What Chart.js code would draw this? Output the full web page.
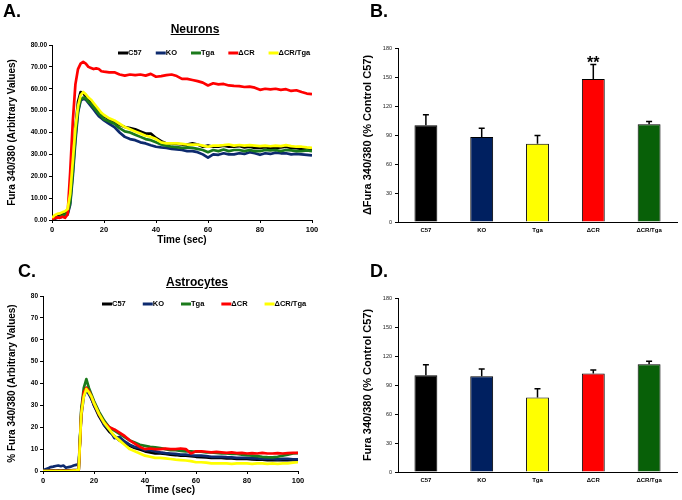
<!DOCTYPE html><html lang="en"><head><meta charset="utf-8">
<title>Fura 340/380 responses in neurons and astrocytes</title>
<script src="https://cdn.jsdelivr.net/npm/chart.js@4/dist/chart.umd.min.js"></script>
<style>
body { margin: 0; background: #fff; font-family: Arial, "Liberation Sans", sans-serif; }
#fig { position: relative; width: 682px; height: 500px; overflow: hidden; }
#fig canvas { position: absolute; }
.tag { position: absolute; font-size: 18px; font-weight: bold; line-height: 18px; }
.ttl { position: absolute; font-size: 12px; font-weight: bold; text-decoration: underline; line-height: 14px; transform: translateX(-50%); white-space: nowrap; }
</style>
</head><body>

<div id=fig>
<canvas id=cA width=340 height=250 style="left:0;top:0"></canvas>
<canvas id=cB width=342 height=250 style="left:340px;top:0"></canvas>
<canvas id=cC width=340 height=250 style="left:0;top:250px"></canvas>
<canvas id=cD width=342 height=250 style="left:340px;top:250px"></canvas>
<div class=tag style="left:3px;top:2px">A.</div>
<div class=tag style="left:370px;top:2px">B.</div>
<div class=tag style="left:18px;top:262px">C.</div>
<div class=tag style="left:370px;top:262px">D.</div>
<div class=ttl style="left:195px;top:22px">Neurons</div>
<div class=ttl style="left:197px;top:275px">Astrocytes</div>
</div>

<script>
const FONT = 'Arial, "Liberation Sans", sans-serif';
Chart.defaults.font.family = FONT;
Chart.defaults.color = '#000';
Chart.defaults.animation = false;

const groups = ["C57", "KO", "Tga", "ΔCR", "ΔCR/Tga"];
const lineColors = ["#000000", "#0d2a6e", "#1b7a1b", "#ff0000", "#ffff00"];
const barColors = ["#000000", "#002060", "#ffff00", "#ff0000", "#086008"];

// time points (sec)
const timeSec = [0,1,2,3,4,5,6,7,8,9,10,11,12,13,14,15,16,17,18,19,20,
  22,24,26,28,30,32,34,36,38,40,42,44,46,48,50,52,54,56,58,60,
  62,64,66,68,70,72,74,76,78,80,82,84,86,88,90,92,94,96,98,100];

// A. neurons, Fura 340/380 (arbitrary values)
const neuronC57 = [0.5,1,1.5,2,2.5,3,3.5,10,25,42,54,58.5,58,56.5,55,54,52.5,51,49.5,48.5,47.5,
  46,45,43.5,42.5,42,41.5,40.5,39.5,39.5,37.5,36,35,35,34.8,34.5,34.5,35,34.5,33.5,34,
  33.5,33.5,34,33.5,33.5,33.8,33.2,33.5,33,33,33.3,32.8,33,33.2,33.5,33,32.8,32.5,32.5,32.5];
const neuronKO = [0.2,0.5,1,1.2,1.5,2,2.5,7,20,36,49,54.5,55.5,55,53.5,52,50.5,49,47.5,46.5,45.5,
  44,42.5,40,38,37,36.5,35.5,35,34.2,33.5,33.2,33,32.5,32.3,32,31.5,31.5,31,30,28.5,
  30,29.8,30.5,30,30,30.5,30.2,31,30.5,29.8,30.5,30.2,30.8,30.5,30.5,30,30.2,30,29.8,29.5];
const neuronTga = [0.3,0.8,1.2,1.5,2,2.5,3,8,22,38,50,55,56,55.5,54,53,51.5,50,48.5,47.5,46,
  45,44,42,40.5,40,39,38,37,36.5,35.5,34.5,34,33.5,33.3,33,33.2,33,32.5,32,31,
  32,31.5,32.2,31.5,32,32,31.5,32,31.5,31.5,32,31.8,32,31.5,32,31.8,31.5,31.5,31.8,31.5];
const neuronDCR = [0.5,0.8,1.2,1,1.5,1,2.5,22,45,62,69,71.5,72.3,71.5,70,69.5,69,69.3,69,68,67.8,
  67.5,67.5,66.5,66,66.5,66.2,66.5,66,66.8,65.5,65.8,66.2,66.5,65.8,64.5,64.5,64,63.5,62.8,61.5,
  62.5,62,62.2,61.5,61.3,61.2,60.8,61,60.5,59.5,60,59.7,60,59.5,59.8,59,59.3,58.5,57.8,57.5];
const neuronDCRTga = [1,2.2,2.8,3,3.5,4,5,12,27,42,52,57,58.5,57.5,56,55,53.5,52,50.5,49,48,
  46.5,45.5,44,42.5,41.5,40.5,39.5,38.5,38,37,35.5,35,35,35,34.8,34.5,34.5,34.5,34,33.5,
  34,34,34.2,34.5,34,34.3,34,34.2,34,33.8,34,33.7,34,33.8,34.2,33.8,33.5,33.5,33.2,33];

// C. astrocytes, % Fura 340/380
const astroC57 = [0.2,0.2,0.3,0.2,0.3,0.2,0.3,0.2,0.3,0.2,0.3,0.3,0.4,0.4,0.5,27,36,38,36,33,30,
  25,21,18,16,14,12.5,11.5,10.5,9.8,9,8.5,8,8,7.8,7.5,7.3,7,7,6.8,6.5,
  6.3,6.2,6,6,6,5.8,5.8,5.5,5.5,5.5,5.3,5.2,5.2,5,5,5,5,5,5,5];
const astroKO = [0.3,0.8,1.2,1.8,2,2.3,2.5,2.2,2.5,1.5,1.8,2,2.5,2.8,3,25,34,37,35,33,30,
  26,21,19,15,15.5,13.5,12,11,10.5,9.5,9.5,9,8.5,8.2,8,7.8,7.5,7.5,7.2,7,
  7,6.8,6.5,6.5,6.5,6.3,6.2,6,6,6,5.8,5.8,5.5,5.5,5.5,5.3,5.5,5.5,5.3,5.3];
const astroTga = [0,0,0.1,0,0.1,0,0.1,0,0.1,0.1,0.2,0.2,0.2,0.3,0.3,28,38,42,38,35,32,
  27,23,20,18.5,17,15.5,14,13,12,11.5,11,10.8,10.5,10,9.5,9.5,9.2,9,9,8.8,
  8.8,8.5,8.5,8.3,8,8,7.8,7.8,7.5,7.2,7,6.8,6.5,6.3,6.2,6.5,7,7.5,8,8.2];
const astroDCR = [0,0,0,0.1,0,0.1,0,0.1,0,0.1,0.1,0.1,0.2,0.2,0.2,26,36,38,36.5,34,31,
  26,22,20,19,17.5,16,14,12.5,11,10,10.3,10,10,10.2,10,10,10.3,10,8,9,
  9,8.8,8.5,8.7,8.5,8.3,8.5,8.2,8.3,8,8.2,8,8.3,8,8,8.2,8,8.2,8.3,8.3];
const astroDCRTga = [0,0,0,0,0,0,0,0,0,0,0,0.1,0.2,0.3,0.5,26,34,37.5,36,34,31,
  26,22,19,16,14,12,10,9,8,7,6.5,6,6,5.8,5.5,5.2,5,4.8,4.5,4,
  4,3.8,3.5,3.5,3.5,3.5,3.3,3.5,3.5,3.5,3.3,3.5,3.5,3.3,3.5,3.3,3.5,3.5,3.8,4];

// B. / D. % control C57, mean and SEM
const neuronPct = [100, 88, 81, 148, 101];
const neuronSem = [11, 9, 8.5, 15, 3];
const neuronSig = ["", "", "", "**", ""];
const astroPct = [100, 99, 77, 102, 111.5];
const astroSem = [11, 7.5, 9, 3.5, 3];

// legend drawn as line + text inside the plot
const lineKey = {
  id: "lineKey",
  afterDraw(chart, args, o) {
    const ctx = chart.ctx;
    ctx.save();
    ctx.font = "bold 7.5px " + FONT;
    ctx.textBaseline = "middle";
    let x = o.x;
    chart.data.datasets.forEach(ds => {
      ctx.strokeStyle = ds.borderColor;
      ctx.lineWidth = 3;
      ctx.beginPath();
      ctx.moveTo(x, o.y);
      ctx.lineTo(x + 10, o.y);
      ctx.stroke();
      ctx.fillStyle = "#000";
      ctx.fillText(ds.label, x + 10, o.y);
      x += 10 + ctx.measureText(ds.label).width + o.gap;
    });
    ctx.restore();
  }
};

// upper error bars (+ significance marks)
const errorBars = {
  id: "errorBars",
  afterDatasetsDraw(chart, args, o) {
    const ctx = chart.ctx;
    const y = chart.scales.y;
    const vals = chart.data.datasets[0].data;
    ctx.save();
    ctx.strokeStyle = "#000";
    ctx.lineWidth = 1.5;
    chart.getDatasetMeta(0).data.forEach((bar, i) => {
      const top = y.getPixelForValue(vals[i] + o.sem[i]);
      ctx.beginPath();
      ctx.moveTo(bar.x, bar.y);
      ctx.lineTo(bar.x, top);
      ctx.moveTo(bar.x - 3, top);
      ctx.lineTo(bar.x + 3, top);
      ctx.stroke();
      if (o.sig && o.sig[i]) {
        ctx.fillStyle = "#000";
        ctx.font = "bold 16px " + FONT;
        ctx.textAlign = "center";
        ctx.fillText(o.sig[i], bar.x, top + 4);
      }
    });
    ctx.restore();
  }
};

const axisLine = { color: "#000", width: 1 };
const tickMarks = { drawOnChartArea: false, tickLength: 3, color: "#000" };

const lineChart = (id, series, o) => new Chart(document.getElementById(id), {
  type: "line",
  data: {
    datasets: series.map((s, i) => ({
      label: groups[i],
      data: timeSec.map((t, j) => ({ x: t, y: s[j] })),
      borderColor: lineColors[i],
      backgroundColor: lineColors[i],
      borderWidth: 2.7,
      borderJoinStyle: "round",
      pointRadius: 0,
      tension: 0,
      order: series.length - i, // later series drawn on top
    })),
  },
  options: {
    responsive: false,
    layout: { padding: { left: 0, top: o.top, right: o.right, bottom: 0 } },
    plugins: { legend: { display: false }, tooltip: { enabled: false }, lineKey: o.key },
    scales: {
      x: {
        type: "linear", min: 0, max: 100,
        ticks: { stepSize: 20, maxRotation: 0, padding: 2, font: { size: 7.5, weight: "bold" } },
        grid: tickMarks, border: axisLine,
        title: { display: true, text: "Time (sec)", font: { size: 10, weight: "bold" }, padding: { top: 0, bottom: 4 } },
        afterFit: s => { s.height = o.xh; },
      },
      y: {
        min: 0, max: 80,
        ticks: { stepSize: 10, padding: 2, callback: o.fmt, font: { size: 6.5, weight: "bold" } },
        grid: tickMarks, border: axisLine,
        title: { display: true, text: o.ytitle, font: { size: 10, weight: "bold" }, padding: { top: o.ytp, bottom: 0 } },
        afterFit: s => { s.width = o.yw; },
      },
    },
  },
  plugins: [lineKey],
});

const barChart = (id, vals, o) => new Chart(document.getElementById(id), {
  type: "bar",
  data: {
    labels: groups,
    datasets: [{
      data: vals,
      backgroundColor: barColors,
      borderColor: "#000",
      borderWidth: 1,
      barPercentage: 0.41,
      categoryPercentage: 1,
    }],
  },
  options: {
    responsive: false,
    layout: { padding: { left: 0, top: 48, right: 5, bottom: 0 } },
    plugins: { legend: { display: false }, tooltip: { enabled: false }, errorBars: o.err },
    scales: {
      x: {
        ticks: { padding: 5, font: { size: 6, weight: "bold" } },
        grid: { display: false, drawTicks: false }, border: axisLine,
        afterFit: s => { s.height = 28; },
      },
      y: {
        min: 0, max: 180,
        ticks: { stepSize: 30, padding: 3, color: "#222", font: { size: 5.5 } },
        grid: tickMarks, border: axisLine,
        title: { display: true, text: o.ytitle, font: { size: 11, weight: "bold" }, padding: { top: 21, bottom: 0 } },
        afterFit: s => { s.width = 58; },
      },
    },
  },
  plugins: [errorBars],
});

lineChart("cA", [neuronC57, neuronKO, neuronTga, neuronDCR, neuronDCRTga], {
  top: 45, right: 28, xh: 30, yw: 52, ytp: 6,
  ytitle: "Fura 340/380 (Arbitrary Values)",
  fmt: v => v.toFixed(2),
  key: { x: 118, y: 53, gap: 14 },
});
lineChart("cC", [astroC57, astroKO, astroTga, astroDCR, astroDCRTga], {
  top: 46, right: 42, xh: 29, yw: 43, ytp: 6,
  ytitle: "% Fura 340/380 (Arbitrary Values)",
  fmt: v => v,
  key: { x: 102, y: 54, gap: 17 },
});
barChart("cB", neuronPct, { ytitle: "ΔFura 340/380 (% Control C57)", err: { sem: neuronSem, sig: neuronSig } });
barChart("cD", astroPct, { ytitle: "Fura 340/380 (% Control C57)", err: { sem: astroSem } });
</script>
</body></html>
